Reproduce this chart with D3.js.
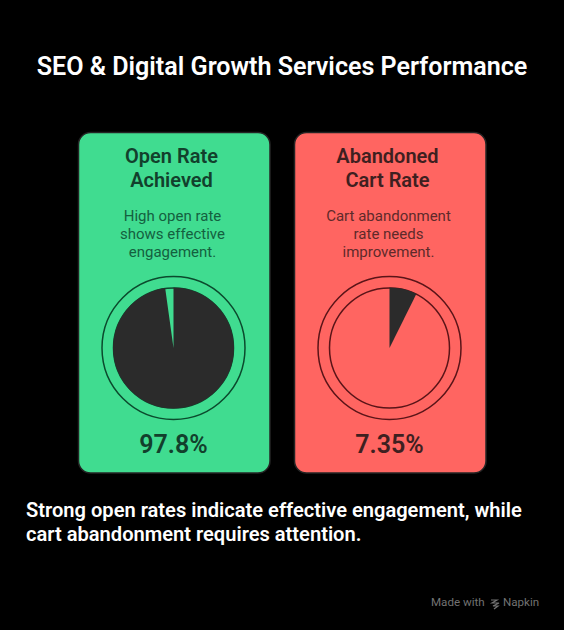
<!DOCTYPE html>
<html>
<head>
<meta charset="utf-8">
<script src="https://cdn.jsdelivr.net/npm/d3@7"></script>
<style>
  html, body { margin: 0; padding: 0; background: #000; }
  svg { display: block; }
  text { font-family: Roboto, sans-serif; }
</style>
</head>
<body>
<svg width="564" height="630"></svg>
<script>
const titleText = "SEO & Digital Growth Services Performance";
const cardNames = [["Open Rate", "Achieved"], ["Abandoned", "Cart Rate"]];
const cardNotes = [
  ["High open rate", "shows effective", "engagement."],
  ["Cart abandonment", "rate needs", "improvement."]
];
const cardValues = [97.8, 7.35];
const valueLabels = ["97.8%", "7.35%"];
const cardColors = ["#40dc90", "#ff6561"];
const textColors = ["#12402c", "#3e2020"];
const noteColors = ["#14603f", "#5e2a2a"];
const ringColors = ["#0b4a2d", "#5a1418"];
const footNote = [
  "Strong open rates indicate effective engagement, while",
  "cart abandonment requires attention."
];

const dark = "#2b2b2b";
const svg = d3.select("svg");

svg.append("text")
  .attr("x", 282)
  .attr("y", 74.5)
  .attr("text-anchor", "middle")
  .attr("font-size", 25.1)
  .attr("font-weight", 600)
  .attr("fill", "#fff")
  .text(titleText);

const cardX = d3.scaleOrdinal().domain([0, 1]).range([78.5, 294.5]);
const pie = d3.pie().sort(null);
const arc = d3.arc().innerRadius(0).outerRadius(60.5);

const cards = svg.selectAll("g.card")
  .data(cardValues)
  .enter()
  .append("g")
  .attr("class", "card")
  .attr("transform", (d, i) => "translate(" + cardX(i) + ",132.5)");

cards.append("rect")
  .attr("width", 191.5)
  .attr("height", 340.5)
  .attr("rx", 12)
  .attr("fill", (d, i) => cardColors[i])
  .attr("stroke", "#242424")
  .attr("stroke-width", 1.5);

// 標題兩行
cards.each(function (d, i) {
  const card = d3.select(this);

  card.selectAll("text.name")
    .data(cardNames[i])
    .enter()
    .append("text")
    .attr("class", "name")
    .attr("x", 93)
    .attr("y", (t, j) => 30.5 + j * 24)
    .attr("text-anchor", "middle")
    .attr("font-size", 20)
    .attr("font-weight", 600)
    .attr("fill", textColors[i])
    .text((t) => t);

  card.selectAll("text.note")
    .data(cardNotes[i])
    .enter()
    .append("text")
    .attr("class", "note")
    .attr("x", 94)
    .attr("y", (t, j) => 88.5 + j * 18)
    .attr("text-anchor", "middle")
    .attr("font-size", 15)
    .attr("fill", noteColors[i])
    .text((t) => t);

  const pieG = card.append("g")
    .attr("transform", "translate(95,215.5)");

  pieG.append("circle")
    .attr("r", 71.5)
    .attr("fill", "none")
    .attr("stroke", ringColors[i])
    .attr("stroke-width", 1.5);

  pieG.append("circle")
    .attr("r", 60)
    .attr("fill", "none")
    .attr("stroke", ringColors[i])
    .attr("stroke-width", 1.5);

  const slices = pie([d, 100 - d]);

  pieG.selectAll("path")
    .data(slices)
    .enter()
    .append("path")
    .attr("d", arc)
    .attr("fill", (s, k) => (k === 0 ? dark : "none"));

  card.append("text")
    .attr("x", 95)
    .attr("y", 320.5)
    .attr("text-anchor", "middle")
    .attr("font-size", 25)
    .attr("font-weight", 600)
    .attr("fill", textColors[i])
    .text(valueLabels[i]);
});

svg.selectAll("text.foot")
  .data(footNote)
  .enter()
  .append("text")
  .attr("class", "foot")
  .attr("x", 26)
  .attr("y", (t, j) => 516.5 + j * 24.5)
  .attr("font-size", 20.1)
  .attr("font-weight", 600)
  .attr("fill", "#fff")
  .text((t) => t);

// 右下角 Napkin 標記
svg.append("text")
  .attr("x", 431)
  .attr("y", 606)
  .attr("font-size", 11.6)
  .attr("fill", "#727272")
  .text("Made with");

svg.append("path")
  .attr("d", "M491 600h6l-5 3h7l-6 3h5l-4 3")
  .attr("fill", "none")
  .attr("stroke", "#727272")
  .attr("stroke-width", 1.2);

svg.append("text")
  .attr("x", 503)
  .attr("y", 606)
  .attr("font-size", 11.6)
  .attr("fill", "#727272")
  .text("Napkin");
</script>
</body>
</html>
